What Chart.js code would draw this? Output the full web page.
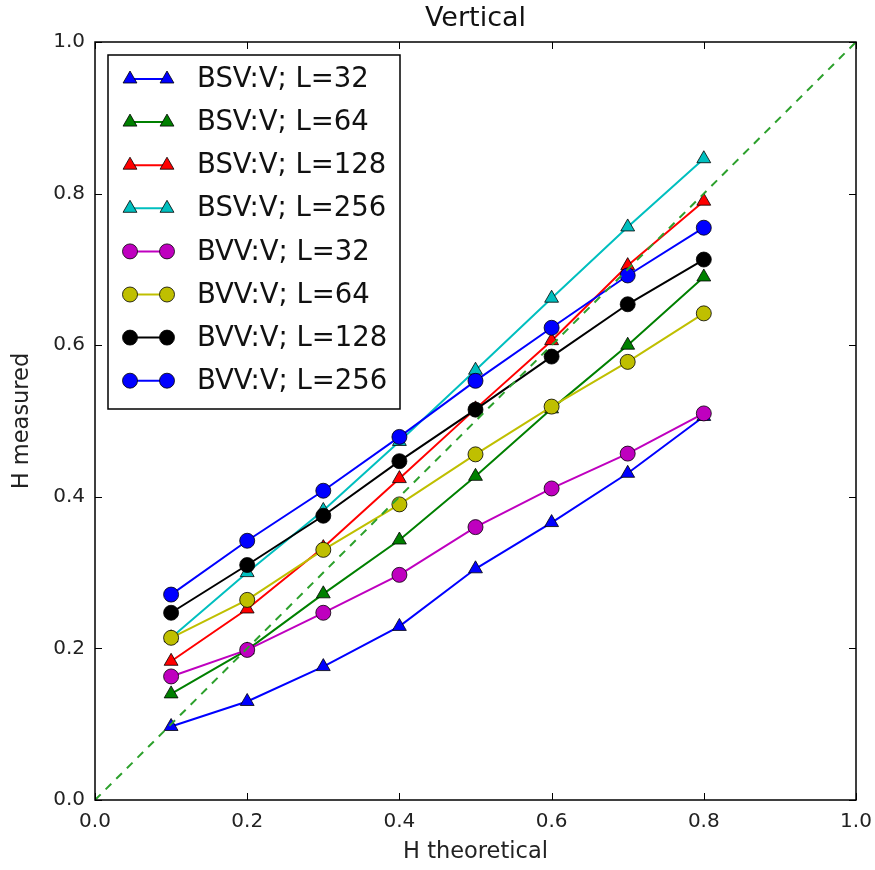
<!DOCTYPE html>
<html>
<head>
<meta charset="utf-8">
<script src="https://cdn.jsdelivr.net/npm/chart.js@4"></script>
<style>
    html, body { margin: 0; padding: 0; background: #fff; }
    #wrap { width: 875px; height: 870px; position: relative; }
</style>
</head>
<body>
<div id="wrap"><canvas id="chart"></canvas></div>
<script>
// x positions (H theoretical)
const hTheoretical = [0.1, 0.2, 0.3, 0.4, 0.5, 0.6, 0.7, 0.8];
const tickValues = [0.0, 0.2, 0.4, 0.6, 0.8, 1.0];

// measured H
const bsv32 = [0.097, 0.130, 0.176, 0.229, 0.305, 0.366, 0.431, 0.506];
const bsv64 = [0.140, 0.198, 0.272, 0.343, 0.427, 0.516, 0.600, 0.690];
const bsv128 = [0.183, 0.252, 0.333, 0.424, 0.516, 0.606, 0.705, 0.790];
const bsv256 = [0.214, 0.300, 0.382, 0.473, 0.567, 0.662, 0.756, 0.846];
const bvv32 = [0.163, 0.198, 0.247, 0.297, 0.360, 0.411, 0.457, 0.510];
const bvv64 = [0.214, 0.264, 0.330, 0.390, 0.456, 0.519, 0.578, 0.642];
const bvv128 = [0.247, 0.310, 0.375, 0.447, 0.515, 0.585, 0.654, 0.713];
const bvv256 = [0.271, 0.342, 0.408, 0.479, 0.553, 0.623, 0.692, 0.755];

const diagonalX = [0, 1];
const diagonalY = [0, 1];

const series = [
    { label: 'BSV:V; L=32', values: bsv32, color: '#0000ff', marker: 'triangle' },
    { label: 'BSV:V; L=64', values: bsv64, color: '#008000', marker: 'triangle' },
    { label: 'BSV:V; L=128', values: bsv128, color: '#ff0000', marker: 'triangle' },
    { label: 'BSV:V; L=256', values: bsv256, color: '#00bfbf', marker: 'triangle' },
    { label: 'BVV:V; L=32', values: bvv32, color: '#bf00bf', marker: 'circle' },
    { label: 'BVV:V; L=64', values: bvv64, color: '#bfbf00', marker: 'circle' },
    { label: 'BVV:V; L=128', values: bvv128, color: '#000000', marker: 'circle' },
    { label: 'BVV:V; L=256', values: bvv256, color: '#0000ff', marker: 'circle' }
];

const FONT = "'DejaVu Sans', sans-serif";

function markerSize(marker) {
    return marker === 'triangle' ? 8 : 7.5;
}

const datasets = series.map((s, i) => ({
    label: s.label,
    data: hTheoretical.map((x, j) => ({ x: x, y: s.values[j] })),
    borderColor: s.color,
    backgroundColor: s.color,
    borderWidth: 2,
    pointStyle: s.marker,
    pointRadius: markerSize(s.marker),
    pointBackgroundColor: s.color,
    pointBorderColor: '#000',
    pointBorderWidth: 0.8,
    tension: 0,
    order: series.length - i
}));

datasets.push({
    label: 'diagonal',
    data: diagonalX.map((x, j) => ({ x: x, y: diagonalY[j] })),
    borderColor: '#2ca02c',
    borderWidth: 2,
    borderDash: [8, 7],
    pointRadius: 0,
    order: 0
});

// inward ticks on all four sides, the frame and the title
const frameTicks = {
    id: 'frameTicks',
    afterDatasetsDraw(chart) {
        const { ctx, chartArea: a, scales: { x, y } } = chart;
        const len = 7;
        ctx.save();
        ctx.strokeStyle = '#000';
        ctx.lineWidth = 1;
        tickValues.forEach(v => {
            const px = Math.round(x.getPixelForValue(v)) + 0.5;
            const py = Math.round(y.getPixelForValue(v)) + 0.5;
            ctx.beginPath();
            ctx.moveTo(px, a.bottom); ctx.lineTo(px, a.bottom - len);
            ctx.moveTo(px, a.top); ctx.lineTo(px, a.top + len);
            ctx.moveTo(a.left, py); ctx.lineTo(a.left + len, py);
            ctx.moveTo(a.right, py); ctx.lineTo(a.right - len, py);
            ctx.stroke();
        });
        ctx.lineWidth = 1.5;
        ctx.strokeRect(a.left, a.top, a.right - a.left, a.bottom - a.top);

        ctx.fillStyle = '#111';
        ctx.font = '27px ' + FONT;
        ctx.textAlign = 'center';
        ctx.textBaseline = 'middle';
        ctx.fillText('Vertical', (a.left + a.right) / 2, 19);
        ctx.restore();
    }
};

// matplotlib-style legend box in the upper left of the axes
const boxLegend = {
    id: 'boxLegend',
    afterDatasetsDraw(chart) {
        const { ctx, chartArea: a } = chart;
        const left = a.left + 13, top = a.top + 13;
        const w = 292, h = 354;
        const rowH = 43.1, firstY = top + 24;
        ctx.save();
        ctx.fillStyle = '#fff';
        ctx.fillRect(left, top, w, h);
        ctx.strokeStyle = '#000';
        ctx.lineWidth = 1.5;
        ctx.strokeRect(left, top, w, h);
        series.forEach((s, i) => {
            const cy = firstY + i * rowH;
            const x1 = left + 22, x2 = left + 59;
            ctx.strokeStyle = s.color;
            ctx.lineWidth = 2;
            ctx.beginPath();
            ctx.moveTo(x1, cy); ctx.lineTo(x2, cy);
            ctx.stroke();
            ctx.fillStyle = s.color;
            ctx.strokeStyle = '#000';
            ctx.lineWidth = 0.8;
            [x1, x2].forEach(px => {
                Chart.helpers.drawPoint(ctx, {
                    pointStyle: s.marker, radius: markerSize(s.marker), rotation: 0, borderWidth: 0.8
                }, px, cy);
            });
            ctx.fillStyle = '#111';
            ctx.font = '27.5px ' + FONT;
            ctx.textBaseline = 'middle';
            ctx.textAlign = 'left';
            ctx.fillText(s.label, left + 89, cy + 1);
        });
        ctx.restore();
    }
};

new Chart(document.getElementById('chart'), {
    type: 'line',
    data: { datasets: datasets },
    options: {
        responsive: true,
        maintainAspectRatio: false,
        animation: false,
        layout: { padding: { left: 0, right: 19, top: 42, bottom: 0 } },
        plugins: {
            legend: { display: false },
            tooltip: { enabled: false },
            title: { display: false }
        },
        scales: {
            x: {
                type: 'linear',
                min: 0,
                max: 1,
                afterFit(scale) {
                    scale.height = 70;
                    scale.paddingLeft = 0;
                    scale.paddingRight = 0;
                },
                afterBuildTicks(scale) { scale.ticks = tickValues.map(v => ({ value: v })); },
                grid: { display: false, drawTicks: false },
                border: { display: false },
                ticks: {
                    color: '#222',
                    padding: 10,
                    font: { family: FONT, size: 20 },
                    callback: v => v.toFixed(1)
                },
                title: {
                    display: true,
                    text: 'H theoretical',
                    color: '#222',
                    font: { family: FONT, size: 22.5 },
                    padding: { top: 0, bottom: 4.5 }
                }
            },
            y: {
                type: 'linear',
                min: 0,
                max: 1,
                afterFit(scale) {
                    scale.width = 95;
                    scale.paddingTop = 0;
                    scale.paddingBottom = 0;
                },
                afterBuildTicks(scale) { scale.ticks = tickValues.map(v => ({ value: v })); },
                grid: { display: false, drawTicks: false },
                border: { display: false },
                ticks: {
                    color: '#222',
                    padding: 10,
                    font: { family: FONT, size: 20 },
                    callback: v => v.toFixed(1)
                },
                title: {
                    display: true,
                    text: 'H measured',
                    color: '#222',
                    font: { family: FONT, size: 22.5 },
                    padding: { top: 8.5, bottom: 0 }
                }
            }
        }
    },
    plugins: [frameTicks, boxLegend]
});
</script>
</body>
</html>
